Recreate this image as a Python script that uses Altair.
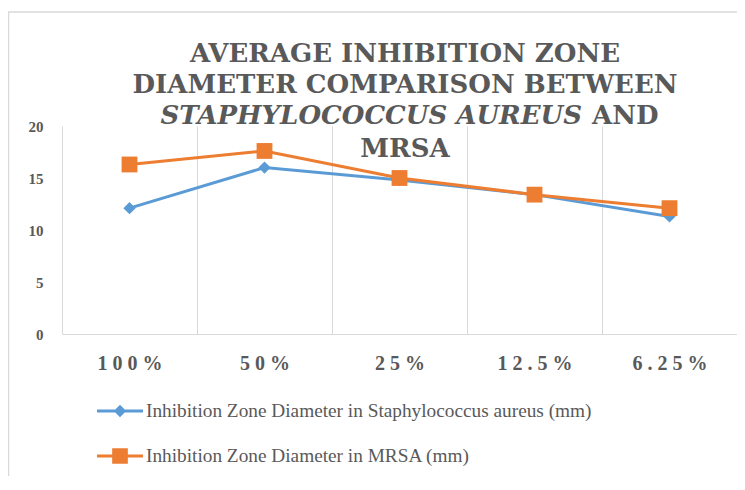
import altair as alt
import pandas as pd

categories = ["100%", "50%", "25%", "12.5%", "6.25%"]
sa_values = [12.1, 16.0, 14.8, 13.4, 11.3]
mrsa_values = [16.3, 17.6, 15.0, 13.4, 12.1]
series_names = [
    "Inhibition Zone Diameter in Staphylococcus aureus (mm)",
    "Inhibition Zone Diameter in MRSA (mm)",
]
title_line1 = "AVERAGE INHIBITION ZONE"
title_line2 = "DIAMETER COMPARISON BETWEEN"
title_line3_italic = "STAPHYLOCOCCUS AUREUS"
title_line3_rest = "AND"
title_line4 = "MRSA"
y_ticks = [0, 5, 10, 15, 20]

colors = ["#5B9BD5", "#ED7D31"]
GRAY = "#595959"
GRID = "#d9d9d9"
FONT = "Liberation Serif, Times New Roman, serif"
TITLE_FONT = "DejaVu Serif, Liberation Serif, serif"
W, H = 675, 208

df = pd.DataFrame({
    "category": categories * 2,
    "series": [series_names[0]] * len(categories) + [series_names[1]] * len(categories),
    "value": sa_values + mrsa_values,
})

x_enc = alt.X(
    "category:N",
    sort=categories,
    scale=alt.Scale(type="band", domain=categories, paddingInner=0, paddingOuter=0),
    axis=alt.Axis(
        title=None, grid=True, gridColor=GRID, gridWidth=1, tickBand="extent",
        ticks=False, domainColor=GRID, domainWidth=1, labelAngle=0,
        labelFont=FONT, labelFontSize=20, labelFontWeight="bold", labelColor=GRAY,
        labelPadding=19,
        labelExpr="join(split(datum.label, ''), '\u2005')",
    ),
)
y_enc = alt.Y(
    "value:Q",
    scale=alt.Scale(domain=[0, 20], nice=False),
    axis=alt.Axis(
        title=None, values=y_ticks, grid=False, domain=False, ticks=False,
        labelFont=FONT, labelFontSize=15, labelFontWeight="bold", labelColor=GRAY,
        labelPadding=19,
    ),
)

base = alt.Chart(df)

frame = alt.Chart(pd.DataFrame({"a": [0]})).mark_rect(
    fillOpacity=0, stroke=GRID, strokeWidth=1.5
).encode(
    x=alt.value(-53.5), x2=alt.value(900), y=alt.value(-114), y2=alt.value(700)
)

sa_df = base.transform_filter(alt.datum.series == series_names[0])
mrsa_df = base.transform_filter(alt.datum.series == series_names[1])

line_sa = sa_df.mark_line(strokeWidth=3, color=colors[0]).encode(x=x_enc, y=y_enc)
pts_sa = sa_df.mark_point(
    filled=True, shape="diamond", size=150, opacity=1, color=colors[0]
).encode(x=x_enc, y=y_enc)
line_mrsa = mrsa_df.mark_line(strokeWidth=3, color=colors[1]).encode(x=x_enc, y=y_enc)
pts_mrsa = mrsa_df.mark_point(
    filled=True, shape="square", size=250, opacity=1, color=colors[1]
).encode(x=x_enc, y=y_enc)

# legend symbols: a short line with the series marker on it (filled paths)
paths = [
    "M-1,-0.065H1V0.065H-1Z M0,-0.27L0.27,0L0,0.27L-0.27,0Z",
    "M-1,-0.065H1V0.065H-1Z M-0.34,-0.34H0.34V0.34H-0.34Z",
]
leg = alt.Legend(
    title=None, orient="none", legendX=35, legendY=262, direction="vertical",
    symbolSize=2116, labelFont=FONT, labelFontSize=19.3, labelColor=GRAY,
    labelOffset=3, rowPadding=11, padding=0, labelLimit=1000,
    symbolStrokeWidth=0, symbolOpacity=1,
)
legend_layer = alt.Chart(pd.DataFrame({"series": series_names})).mark_point(
    filled=True, opacity=1, size=10
).encode(
    x=alt.value(-500), y=alt.value(-500),
    color=alt.Color("series:N", scale=alt.Scale(domain=series_names, range=colors), legend=leg),
    shape=alt.Shape("series:N", scale=alt.Scale(domain=series_names, range=paths), legend=leg),
)


def title_text(txt, xpos, ypos, align="center", style="normal"):
    return alt.Chart(pd.DataFrame({"t": [txt]})).mark_text(
        font=TITLE_FONT, fontSize=26, fontWeight="bold", fontStyle=style, color=GRAY,
        align=align, baseline="alphabetic",
    ).encode(text="t:N", x=alt.value(xpos), y=alt.value(ypos))


t1 = title_text(title_line1, 343, -64)
t2 = title_text(title_line2, 343, -33)
t3a = title_text(title_line3_italic, 520, -2, align="right", style="italic")
t3b = title_text(title_line3_rest, 530, -2, align="left")
t4 = title_text(title_line4, 343, 31)

chart = alt.layer(
    frame, line_sa, pts_sa, line_mrsa, pts_mrsa, legend_layer, t1, t2, t3a, t3b, t4
).properties(
    width=W, height=H,
    autosize=alt.AutoSizeParams(type="none"),
    padding={"left": 54, "top": 118, "right": 0, "bottom": 142},
).configure_view(stroke=None)

chart.save("out.html", embed_options={"renderer": "svg", "actions": False})
